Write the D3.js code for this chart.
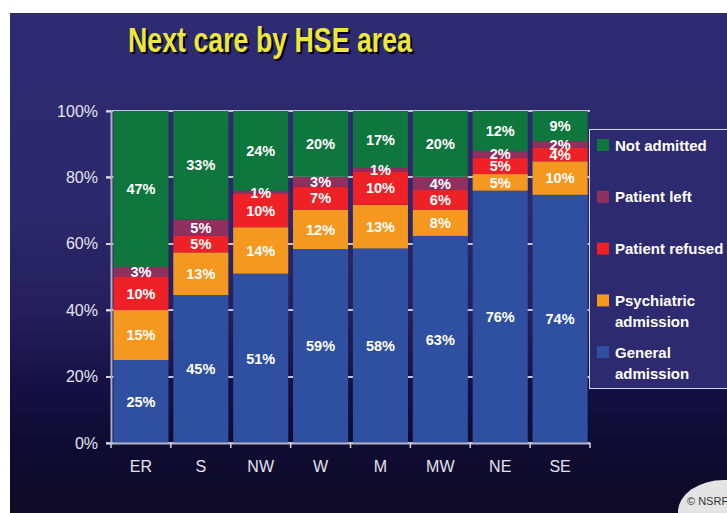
<!DOCTYPE html>
<meta charset="utf-8">
<style>
  body {
      margin: 0;
      padding: 0;
      background: #fff;
      font-family: 'Liberation Sans', Arial, Helvetica, sans-serif;
  }

  .grid line {
      stroke: #c4c4d2;
      stroke-width: 1.5;
      shape-rendering: crispEdges;
  }

  .seg-label {
      fill: #fff;
      font-size: 14.5px;
      font-weight: bold;
      text-anchor: middle;
  }

  .tick-label {
      fill: #e4e4ee;
      font-size: 16px;
  }

  .legend text {
      fill: #fff;
      font-size: 15px;
      font-weight: bold;
  }
</style>
<body>
<script src="https://cdn.jsdelivr.net/npm/d3@7"></script>
<div id="chart"></div>
<script>
// categories and series, bottom of stack first
var areas = ["ER", "S", "NW", "W", "M", "MW", "NE", "SE"];
var seriesNames = ["General admission", "Psychiatric admission", "Patient refused", "Patient left", "Not admitted"];
var seriesColors = ["#2f4fa0", "#f49820", "#ee2126", "#90305f", "#0f763d"];

// percentages as printed on the bars
var general = [25, 45, 51, 59, 58, 63, 76, 74];
var psychiatric = [15, 13, 14, 12, 13, 8, 5, 10];
var refused = [10, 5, 10, 7, 10, 6, 5, 4];
var patientLeft = [3, 5, 1, 3, 1, 4, 2, 2];
var notAdmitted = [47, 33, 24, 20, 17, 20, 12, 9];

var yTicks = [0, 0.2, 0.4, 0.6, 0.8, 1];

// legend is listed top to bottom
var legendOrder = [4, 3, 2, 1, 0];
var legendLines = [["Not admitted"], ["Patient left"], ["Patient refused"], ["Psychiatric", "admission"], ["General", "admission"]];

var width = 727,
    height = 513;

var plot = {left: 111, right: 590, top: 111, bottom: 443};

var svg = d3.select("#chart").append("svg")
    .attr("width", width)
    .attr("height", height);

var defs = svg.append("defs");
var grad = defs.append("linearGradient")
    .attr("id", "bg")
    .attr("x1", 0).attr("y1", 0)
    .attr("x2", 0).attr("y2", 1);
[[0, "#2e2b73"], [0.4, "#2c286b"], [0.6, "#241f5a"], [0.75, "#151043"], [0.86, "#0f0c33"], [1, "#100b25"]]
    .forEach(function(s) {
        grad.append("stop").attr("offset", s[0]).attr("stop-color", s[1]);
    });

// slide background
svg.append("rect")
    .attr("x", 10)
    .attr("y", 13)
    .attr("width", width - 10)
    .attr("height", height - 13)
    .attr("fill", "url(#bg)");

// title with drop shadow
var title = "Next care by HSE area";
svg.append("text")
    .attr("x", 272)
    .attr("y", 54)
    .attr("text-anchor", "middle")
    .attr("font-size", 35)
    .attr("font-weight", "bold")
    .attr("fill", "#000")
    .attr("textLength", 284)
    .attr("lengthAdjust", "spacingAndGlyphs")
    .text(title);
svg.append("text")
    .attr("x", 270)
    .attr("y", 52)
    .attr("text-anchor", "middle")
    .attr("font-size", 35)
    .attr("font-weight", "bold")
    .attr("fill", "#ebe73c")
    .attr("textLength", 284)
    .attr("lengthAdjust", "spacingAndGlyphs")
    .text(title);

var data = areas.map(function(a, i) {
    var row = {area: a};
    row[seriesNames[0]] = general[i];
    row[seriesNames[1]] = psychiatric[i];
    row[seriesNames[2]] = refused[i];
    row[seriesNames[3]] = patientLeft[i];
    row[seriesNames[4]] = notAdmitted[i];
    return row;
});

var stacked = d3.stack()
    .keys(seriesNames)
    .offset(d3.stackOffsetExpand)(data);

var x = d3.scaleBand()
    .domain(areas)
    .range([plot.left, plot.right])
    .paddingInner(0.08)
    .paddingOuter(0.04);

var y = d3.scaleLinear()
    .domain([0, 1])
    .range([plot.bottom, plot.top]);

// gridlines behind bars
svg.append("g")
    .attr("class", "grid")
    .selectAll("line")
    .data(yTicks)
    .enter().append("line")
    .attr("x1", plot.left - 5)
    .attr("x2", plot.right)
    .attr("y1", function(d) { return Math.round(y(d)); })
    .attr("y2", function(d) { return Math.round(y(d)); });

var layers = svg.selectAll(".layer")
    .data(stacked)
    .enter().append("g")
    .attr("class", "layer")
    .attr("fill", function(d, i) { return seriesColors[i]; });

layers.selectAll("rect")
    .data(function(d) { return d; })
    .enter().append("rect")
    .attr("x", function(d) { return x(d.data.area); })
    .attr("y", function(d) { return y(d[1]); })
    .attr("width", x.bandwidth())
    .attr("height", function(d) { return y(d[0]) - y(d[1]); });

// segment labels
stacked.forEach(function(layer) {
    svg.append("g").selectAll("text")
        .data(layer)
        .enter().append("text")
        .attr("class", "seg-label")
        .attr("x", function(d) { return x(d.data.area) + x.bandwidth() / 2; })
        .attr("y", function(d) { return (y(d[0]) + y(d[1])) / 2; })
        .attr("dy", "0.36em")
        .text(function(d) { return d.data[layer.key] + "%"; });
});

// y axis
var yAxis = svg.append("g")
    .attr("transform", "translate(" + plot.left + ",0)")
    .call(d3.axisLeft(y).tickValues(yTicks).tickFormat(d3.format(".0%")).tickSize(5).tickPadding(8));
yAxis.select(".domain").attr("stroke", "#aeaec6").attr("stroke-width", 2);
yAxis.selectAll(".tick line").attr("stroke", "#d8d8e2").attr("stroke-width", 1.5);
yAxis.selectAll(".tick text")
    .attr("class", "tick-label")
    .attr("font-family", null)
    .attr("font-size", null)
    .attr("fill", null);

// x axis
var xAxis = svg.append("g")
    .attr("transform", "translate(0," + plot.bottom + ")")
    .call(d3.axisBottom(x).tickSize(0).tickPadding(18));
xAxis.select(".domain").attr("stroke", "#b4b4c8").attr("stroke-width", 2);
xAxis.selectAll(".tick text")
    .attr("class", "tick-label")
    .attr("font-family", null)
    .attr("font-size", null)
    .attr("fill", null);

// small ticks between bars
xAxis.append("g").selectAll("line")
    .data(areas.concat(["end"]))
    .enter().append("line")
    .attr("x1", function(d, i) { return i < areas.length ? x(d) - x.step() * x.paddingInner() / 2 : plot.right; })
    .attr("x2", function(d, i) { return i < areas.length ? x(d) - x.step() * x.paddingInner() / 2 : plot.right; })
    .attr("y1", 0)
    .attr("y2", 5)
    .attr("stroke", "#d0d0dc")
    .attr("stroke-width", 1.5);

// legend
var legend = svg.append("g").attr("class", "legend");
legend.append("rect")
    .attr("x", 589.5)
    .attr("y", 129.5)
    .attr("width", 160)
    .attr("height", 259)
    .attr("fill", "#2e2a70")
    .attr("stroke", "#d4d4e0")
    .attr("stroke-width", 1);

var item = legend.selectAll(".item")
    .data(legendOrder)
    .enter().append("g")
    .attr("class", "item")
    .attr("transform", function(d, i) { return "translate(597," + (145 + i * 51.8) + ")"; });

item.append("rect")
    .attr("x", 0)
    .attr("y", -6)
    .attr("width", 12)
    .attr("height", 12)
    .attr("fill", function(d) { return seriesColors[d]; });

item.append("text")
    .attr("x", 18)
    .attr("y", 5.5)
    .selectAll("tspan")
    .data(function(d, i) { return legendLines[i]; })
    .enter().append("tspan")
    .attr("x", 18)
    .attr("dy", function(d, j) { return j === 0 ? 0 : 21; })
    .text(function(d) { return d; });

// copyright badge
svg.append("ellipse")
    .attr("cx", 724)
    .attr("cy", 512)
    .attr("rx", 46)
    .attr("ry", 32)
    .attr("fill", "#e4e4e4");
svg.append("text")
    .attr("x", 687)
    .attr("y", 505)
    .attr("font-size", 11)
    .attr("fill", "#333")
    .text("\u00a9 NSRF");
</script>
</body>
